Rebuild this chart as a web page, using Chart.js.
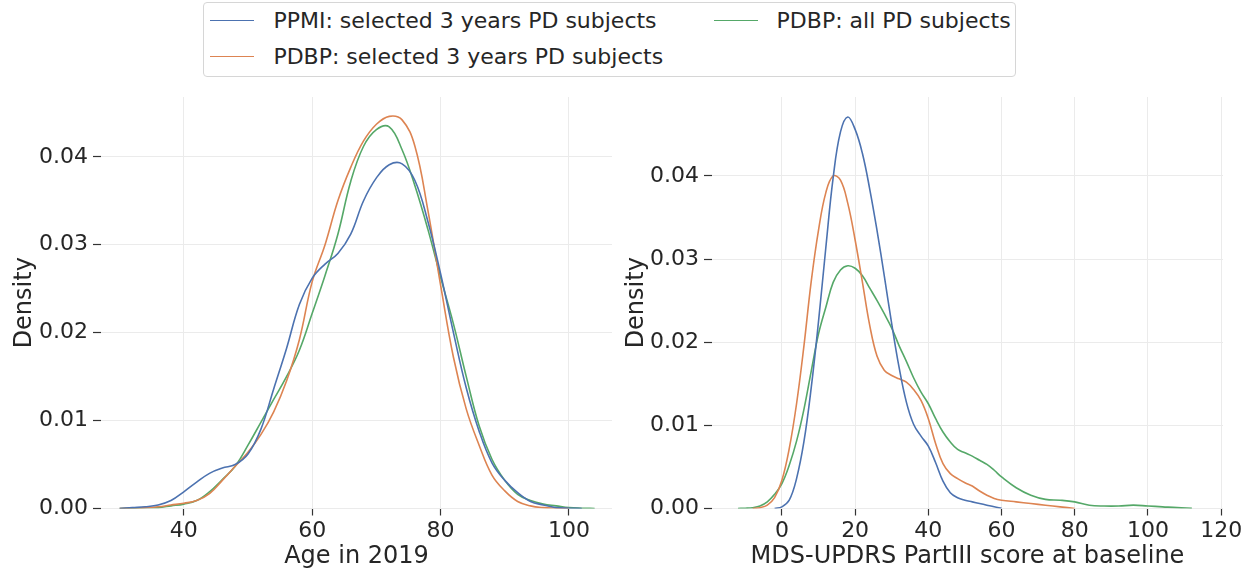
<!DOCTYPE html>
<html lang="en">
<head>
<meta charset="UTF-8">
<title>PD cohorts: age and MDS-UPDRS III densities</title>
<style>
    body {
        margin: 0;
        background: #ffffff;
        font-family: "DejaVu Sans", sans-serif;
    }
    #wrap {
        position: relative;
        width: 1252px;
        height: 575px;
        overflow: hidden;
    }
    canvas {
        position: absolute;
        top: 0;
    }
    #ageChart { left: 0; }
    #scoreChart { left: 612px; }
    .legend {
        position: absolute;
        left: 203px;
        top: 2px;
        width: 811px;
        height: 73px;
        border: 1px solid #d6d6d6;
        border-radius: 4px;
        background: #ffffff;
        z-index: 2;
    }
    .legend .item {
        position: absolute;
        height: 26px;
        line-height: 26px;
        font-size: 22px;
        color: #262626;
        white-space: nowrap;
    }
    .legend .swatch {
        position: absolute;
        left: 0;
        top: 12px;
        width: 44px;
        height: 0;
        border-top: 1.6px solid;
    }
    .legend .label {
        position: absolute;
        left: 63px;
        top: 0;
    }
</style>
</head>
<body>
<div id="wrap">
    <div class="legend" id="legend"></div>
    <canvas id="ageChart" width="620" height="575"></canvas>
    <canvas id="scoreChart" width="640" height="575"></canvas>
</div>

<script src="https://cdn.jsdelivr.net/npm/chart.js"></script>
<script>
    // series names and colours (seaborn "deep")
    const seriesNames = [
        'PPMI: selected 3 years PD subjects',
        'PDBP: selected 3 years PD subjects',
        'PDBP: all PD subjects'
    ];
    const seriesColors = ['#4c72b0', '#dd8452', '#55a868'];

    // KDE of age in 2019
    const ageGrid = [30, 32, 34, 36, 38, 40, 42, 44, 46, 48, 50, 52, 54, 56, 58, 60, 62, 64, 66, 68,
                     70, 72, 74, 76, 78, 80, 82, 84, 86, 88, 90, 92, 94, 96, 98, 100, 102, 104];
    const ppmiAge = [0, 0.0001, 0.0002, 0.0004, 0.0009, 0.0019, 0.0030, 0.0040, 0.0046, 0.0050,
                     0.0062, 0.0090, 0.0136, 0.0182, 0.0232, 0.0262, 0.0278, 0.0290, 0.0312, 0.0350,
                     0.0376, 0.0391, 0.0392, 0.0373, 0.0327, 0.0267, 0.0200, 0.0137, 0.0088, 0.0052,
                     0.0032, 0.0018, 0.0008, 0.0004, 0.0001, 0.00003, 0, null];
    const pdbpSelAge = [0, 0.00005, 0.0001, 0.0002, 0.0004, 0.0006, 0.0009, 0.0017, 0.0032, 0.0048,
                        0.0064, 0.0084, 0.0110, 0.0145, 0.0192, 0.0258, 0.0300, 0.0350, 0.0388, 0.0418,
                        0.0437, 0.0446, 0.0442, 0.0412, 0.0340, 0.0254, 0.0172, 0.0113, 0.0072, 0.0038,
                        0.0020, 0.0008, 0.0003, 0.0001, 0.00004, 0, null, null];
    const pdbpAllAge = [0, 0.00003, 0.00008, 0.0001, 0.0003, 0.0005, 0.0009, 0.0019, 0.0033, 0.0048,
                        0.0072, 0.0098, 0.0124, 0.0150, 0.0180, 0.0222, 0.0265, 0.0312, 0.0372, 0.0412,
                        0.0431, 0.0434, 0.0408, 0.0367, 0.0318, 0.0263, 0.0210, 0.0150, 0.0094, 0.0056,
                        0.0032, 0.0016, 0.0009, 0.0005, 0.0003, 0.0001, 0.00003, 0];

    // KDE of MDS-UPDRS Part III score at baseline
    const scoreGrid = [-14, -12, -10, -8, -6, -4, -2, 0, 2, 4, 6, 8, 10, 12, 14, 16, 18, 20, 22, 24,
                       26, 28, 30, 32, 34, 36, 38, 40, 42, 44, 46, 48, 50, 52, 54, 56, 58, 60,
                       64, 68, 72, 76, 80, 84, 88, 92, 96, 100, 104, 108, 112, 116];
    const ppmiScore = [null, null, null, null, null, null, 0, 0.0002, 0.0010, 0.0036,
                       0.0080, 0.0145, 0.0225, 0.0314, 0.0398, 0.0453, 0.0471, 0.0456, 0.0427, 0.0384,
                       0.0334, 0.0279, 0.0222, 0.0170, 0.0128, 0.0101, 0.0087, 0.0075, 0.0055, 0.0033,
                       0.0019, 0.0013, 0.0010, 0.0008, 0.0006, 0.0004, 0.0002, 0.00003,
                       null, null, null, null, null, null, null, null, null, null, null, null, null, null];
    const pdbpSelScore = [null, null, null, 0, 0.0001, 0.0004, 0.0013, 0.0034, 0.0072, 0.0126,
                          0.0195, 0.0273, 0.0335, 0.0380, 0.0400, 0.0395, 0.0367, 0.0323, 0.0272, 0.0220,
                          0.0183, 0.0166, 0.0160, 0.0156, 0.0152, 0.0143, 0.0130, 0.0108, 0.0078, 0.0054,
                          0.0042, 0.0036, 0.0031, 0.0027, 0.0021, 0.0016, 0.0012, 0.0010,
                          0.0008, 0.0006, 0.0004, 0.0002, 0, null, null, null, null, null, null, null, null, null];
    const pdbpAllScore = [null, 0, 0.00003, 0.0001, 0.0003, 0.0008, 0.0017, 0.0030, 0.0052, 0.0081,
                          0.0119, 0.0165, 0.0210, 0.0242, 0.0272, 0.0287, 0.0292, 0.0289, 0.0280, 0.0265,
                          0.0250, 0.0234, 0.0217, 0.0196, 0.0177, 0.0157, 0.0140, 0.0126, 0.0108, 0.0092,
                          0.0080, 0.0071, 0.0067, 0.0063, 0.0058, 0.0053, 0.0046, 0.0038,
                          0.0025, 0.0016, 0.0011, 0.0010, 0.0008, 0.0004, 0.0003, 0.0003, 0.0004, 0.0003,
                          0.0002, 0.0001, 0.00003, null];

    // tick labels
    const ageTicks = [40, 60, 80, 100];
    const scoreTicks = [0, 20, 40, 60, 80, 100, 120];
    const densityTicks = [0, 0.01, 0.02, 0.03, 0.04];

    const textColor = '#262626';
    const gridColor = '#ebebeb';
    const tickFont = { family: '"DejaVu Sans", sans-serif', size: 22 };
    const titleFont = { family: '"DejaVu Sans", sans-serif', size: 24 };

    function toPoints(grid, values) {
        return grid.map((x, i) => ({ x: x, y: values[i] }));
    }

    function makeDatasets(grid, seriesList) {
        return seriesList.map((values, i) => ({
            label: seriesNames[i],
            data: toPoints(grid, values),
            borderColor: seriesColors[i],
            backgroundColor: seriesColors[i],
            borderWidth: 1.6,
            pointRadius: 0,
            fill: false,
            tension: 0.4
        }));
    }

    function makeChart(canvasId, grid, seriesList, opts) {
        return new Chart(document.getElementById(canvasId).getContext('2d'), {
            type: 'line',
            data: { datasets: makeDatasets(grid, seriesList) },
            options: {
                responsive: false,
                animation: false,
                devicePixelRatio: 1,
                layout: { padding: { top: 97, right: opts.padRight, left: 0, bottom: 0 } },
                plugins: { legend: { display: false }, tooltip: { enabled: false } },
                scales: {
                    x: {
                        type: 'linear',
                        min: opts.xMin,
                        max: opts.xMax,
                        afterBuildTicks: scale => { scale.ticks = opts.xTicks.map(v => ({ value: v })); },
                        afterFit: scale => { scale.height = 66.5; },
                        border: { display: false },
                        grid: {
                            color: gridColor,
                            lineWidth: 1,
                            tickLength: 7,
                            tickColor: '#333333',
                            tickWidth: 1.2
                        },
                        ticks: {
                            color: textColor,
                            font: tickFont,
                            padding: 3,
                            autoSkip: false,
                            maxRotation: 0
                        },
                        title: {
                            display: true,
                            text: opts.xTitle,
                            color: textColor,
                            font: titleFont,
                            padding: { top: 0, bottom: 4 }
                        }
                    },
                    y: {
                        type: 'linear',
                        min: 0,
                        max: opts.yMax,
                        afterBuildTicks: scale => { scale.ticks = densityTicks.map(v => ({ value: v })); },
                        afterFit: scale => { scale.width = opts.yWidth; },
                        border: { display: false },
                        grid: {
                            color: gridColor,
                            lineWidth: 1,
                            tickLength: 8,
                            tickColor: '#333333',
                            tickWidth: 1.2
                        },
                        ticks: {
                            color: textColor,
                            font: tickFont,
                            padding: 5,
                            autoSkip: false,
                            callback: v => v.toFixed(2)
                        },
                        title: {
                            display: true,
                            text: 'Density',
                            color: textColor,
                            font: titleFont,
                            padding: { top: 10, bottom: 0 }
                        }
                    }
                }
            }
        });
    }

    makeChart('ageChart', ageGrid, [ppmiAge, pdbpSelAge, pdbpAllAge], {
        xMin: 27.1, xMax: 106.7, yMax: 0.0468,
        xTicks: ageTicks, xTitle: 'Age in 2019',
        yWidth: 101, padRight: 8
    });

    makeChart('scoreChart', scoreGrid, [ppmiScore, pdbpSelScore, pdbpAllScore], {
        xMin: -19.1, xMax: 120.5, yMax: 0.0495,
        xTicks: scoreTicks, xTitle: 'MDS-UPDRS PartIII score at baseline',
        yWidth: 100, padRight: 29
    });

    // shared legend above both panels, two columns
    const legendSlots = [
        { left: 6.4, top: 5.4 },
        { left: 6.4, top: 40.6 },
        { left: 509.6, top: 5.4 }
    ];
    const legendBox = document.getElementById('legend');
    seriesNames.forEach((name, i) => {
        const item = document.createElement('div');
        item.className = 'item';
        item.style.left = legendSlots[i].left + 'px';
        item.style.top = legendSlots[i].top + 'px';
        const swatch = document.createElement('span');
        swatch.className = 'swatch';
        swatch.style.borderTopColor = seriesColors[i];
        const label = document.createElement('span');
        label.className = 'label';
        label.textContent = name;
        item.appendChild(swatch);
        item.appendChild(label);
        legendBox.appendChild(item);
    });
</script>
</body>
</html>
